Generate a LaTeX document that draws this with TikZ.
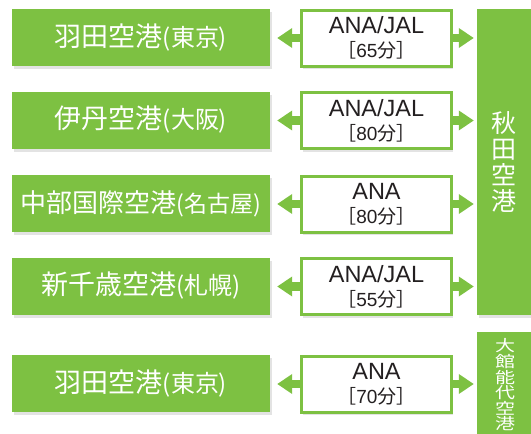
\documentclass[tikz,border=0pt]{standalone}
\usepackage{fontspec}
\usepackage{graphicx}
\setmainfont{Liberation Sans}
\newfontfamily\cjk{Noto Sans CJK JP}
\usetikzlibrary{arrows.meta,shadows}
\definecolor{ggreen}{HTML}{7DC142}
\definecolor{ink}{HTML}{231F20}
\tikzset{
  shad/.style={drop shadow={opacity=0.22,shadow xshift=1.5pt,shadow yshift=-3pt}},
  place/.style={fill=ggreen,text=white,minimum width=258pt,minimum height=57pt,inner sep=0pt,shad},
  timebox/.style={draw=ggreen,line width=3pt,fill=white,text=ink,minimum width=150pt,minimum height=56pt,inner sep=0pt,align=center,shad,font=\fontsize{23.5}{24}\selectfont},
  dest/.style={fill=ggreen,inner sep=0pt,shad},
  vtext/.style={text=white,align=center,inner sep=0pt},
  arr/.style={draw=ggreen,line width=8.5pt,-{Triangle[length=15pt,width=19pt]}},
}
\newcommand{\placetext}[2]{{\cjk\fontsize{27}{30}\selectfont #1\fontsize{24}{30}\selectfont(#2)}}
\newcommand{\placetextsm}[2]{{\cjk\fontsize{26}{30}\selectfont #1\fontsize{23}{30}\selectfont(#2)}}
\newcommand{\timetext}[2]{#1\\{\fontsize{19}{24}\selectfont\cjk［\rmfamily #2\cjk 分］}}
\begin{document}
\begin{tikzpicture}[x=1pt,y=-1pt]
\useasboundingbox (0,0) rectangle (531,434);
% destination boxes
\node[dest,minimum width=54pt,minimum height=306pt] (akita) at (504,162) {};
\node[vtext,font=\cjk\fontsize{25}{26}\selectfont] (akitat) at (akita.center) {秋\\田\\空\\港};
\node[dest,minimum width=54pt,minimum height=102pt] (odate) at (504,383) {};
\node[vtext,font=\cjk\fontsize{20}{20}\selectfont,yscale=0.78,transform shape] (odatet) at (505,385) {大\\館\\能\\代\\空\\港};
% origin boxes
\node[place] (l1) at (141,37.5) {\placetext{羽田空港}{東京}};
\node[place] (l2) at (141,120) {\placetext{伊丹空港}{大阪}};
\node[place] (l3) at (141,203.5) {\placetextsm{中部国際空港}{名古屋}};
\node[place] (l4) at (141,286) {\placetext{新千歳空港}{札幌}};
\node[place] (l5) at (141,383.5) {\placetext{羽田空港}{東京}};
% time boxes
\node[timebox] (m1) at (376.5,38) {\timetext{ANA/JAL}{65}};
\node[timebox] (m2) at (376.5,120.5) {\timetext{ANA/JAL}{80}};
\node[timebox] (m3) at (376.5,204) {\timetext{ANA}{80}};
\node[timebox] (m4) at (376.5,286.5) {\timetext{ANA/JAL}{55}};
\node[timebox] (m5) at (376.5,384) {\timetext{ANA}{70}};
% arrows
\foreach \i in {1,...,5} {
  \draw[arr,shorten >=7pt] (m\i.west) -- (l\i.east |- m\i.west);
}
\foreach \i in {1,...,4} {
  \draw[arr,shorten >=3pt] (m\i.east) -- (akita.west |- m\i.east);
}
\draw[arr,shorten >=3pt] (m5.east) -- (odate.west |- m5.east);
\end{tikzpicture}
\end{document}
